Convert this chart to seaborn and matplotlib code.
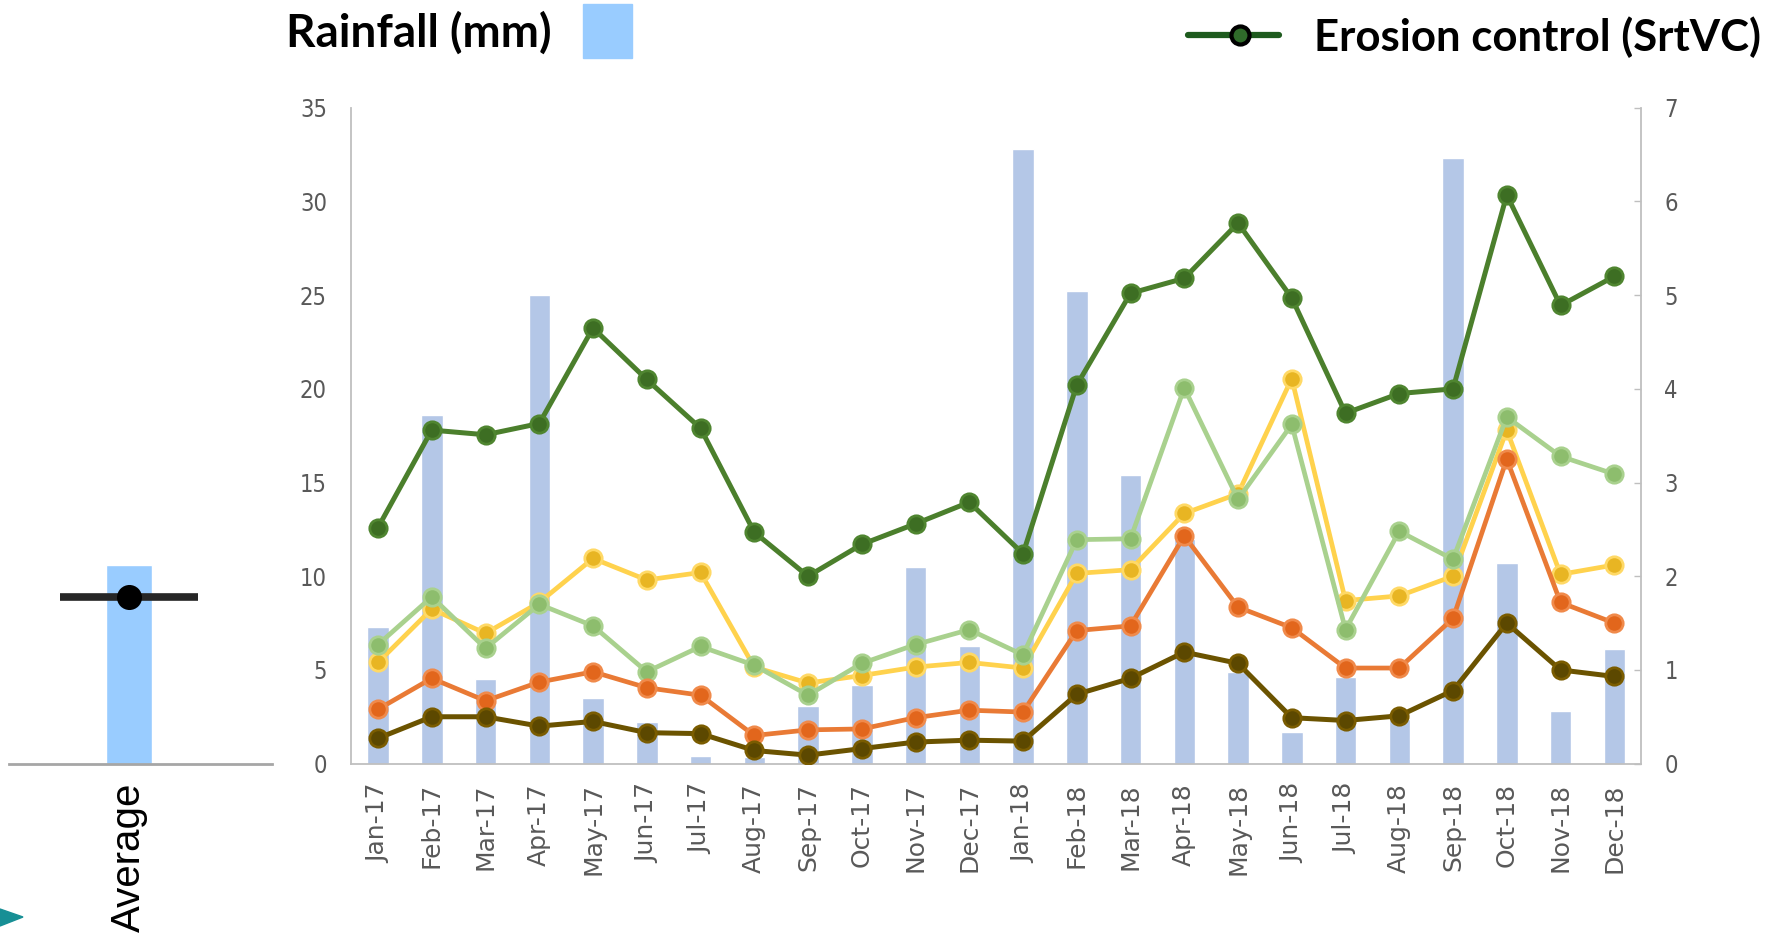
import numpy as np
import pandas as pd
import matplotlib
matplotlib.use("Agg")
import matplotlib.pyplot as plt
from matplotlib.lines import Line2D
from matplotlib.patches import Rectangle, Polygon
import seaborn as sns

# ---- data -------------------------------------------------------------
months = ["Jan-17", "Feb-17", "Mar-17", "Apr-17", "May-17", "Jun-17",
          "Jul-17", "Aug-17", "Sep-17", "Oct-17", "Nov-17", "Dec-17",
          "Jan-18", "Feb-18", "Mar-18", "Apr-18", "May-18", "Jun-18",
          "Jul-18", "Aug-18", "Sep-18", "Oct-18", "Nov-18", "Dec-18"]

rainfall = [7.3, 18.6, 4.5, 25.0, 3.5, 2.2, 0.4, 0.35, 3.1, 4.2, 10.5, 6.3,
            32.8, 25.2, 15.4, 12.0, 4.9, 1.7, 4.6, 2.4, 32.3, 10.7, 2.8, 6.1]

erosion_srtvc = [2.52, 3.56, 3.51, 3.63, 4.65, 4.10, 3.58, 2.47, 2.00, 2.34,
                 2.56, 2.79, 2.24, 4.04, 5.02, 5.18, 5.77, 4.97, 3.74, 3.95,
                 4.00, 6.07, 4.89, 5.20]
series_lightgreen = [1.27, 1.78, 1.23, 1.70, 1.47, 0.98, 1.25, 1.05, 0.73, 1.07,
                     1.27, 1.43, 1.16, 2.39, 2.40, 4.01, 2.82, 3.62, 1.43, 2.48,
                     2.18, 3.70, 3.28, 3.09]
series_yellow = [1.08, 1.65, 1.39, 1.72, 2.19, 1.96, 2.04, 1.03, 0.86, 0.94,
                 1.03, 1.08, 1.02, 2.03, 2.07, 2.67, 2.88, 4.11, 1.74, 1.79,
                 2.00, 3.56, 2.02, 2.12]
series_orange = [0.58, 0.91, 0.67, 0.87, 0.98, 0.81, 0.73, 0.30, 0.36, 0.37,
                 0.49, 0.57, 0.55, 1.42, 1.47, 2.43, 1.67, 1.45, 1.02, 1.02,
                 1.55, 3.25, 1.72, 1.50]
series_olive = [0.27, 0.50, 0.50, 0.40, 0.45, 0.33, 0.32, 0.14, 0.09, 0.16,
                0.23, 0.25, 0.24, 0.74, 0.91, 1.19, 1.07, 0.49, 0.46, 0.51,
                0.78, 1.50, 1.00, 0.93]

average_label = ["Average"]
average_rainfall = [10.6]
average_marker = [8.9]

# ---- style ------------------------------------------------------------
sns.set_theme(style="white")
plt.rcParams["font.family"] = ["DejaVu Sans"]

grey_axis = "#bfbfbf"
tick_grey = "#595959"

W, H = 1779, 940
fig = plt.figure(figsize=(W / 100, H / 100), dpi=100)

def fx(px):
    return px / W

def fy(py):
    return 1 - py / H

ax_bottom, ax_top = 763.6, 107.8
ax = fig.add_axes([fx(350.6), fy(ax_bottom), fx(1640.6 - 350.6),
                   (ax_bottom - ax_top) / H])

# rainfall bars on the left axis
rain_df = pd.DataFrame({"month": months, "rain": rainfall})
sns.barplot(data=rain_df, x="month", y="rain", ax=ax, color="#b4c7e7",
            saturation=1, width=0.4, zorder=1)
ax.set_xlim(-0.51, len(months) - 0.51)
ax.set_ylim(0, 35)
ax.set_yticks(np.arange(0, 36, 5))
ax.set_xlabel("")
ax.set_ylabel("")
ax.tick_params(axis="y", length=0, pad=17, labelsize=17, labelcolor=tick_grey)
ax.tick_params(axis="x", length=0, pad=14, labelsize=18, labelcolor=tick_grey)
for lab in ax.get_yticklabels():
    lab.set_fontstretch("condensed")
    lab.set_fontweight("light")
for lab in ax.get_xticklabels():
    lab.set_rotation(90)
for side in ["top", "right"]:
    ax.spines[side].set_visible(False)
for side in ["left", "bottom"]:
    ax.spines[side].set_color(grey_axis)
    ax.spines[side].set_linewidth(1.3)

# treatment lines on the right axis
ax2 = ax.twinx()
ax2.set_ylim(0, 7)
ax2.set_yticks(np.arange(0, 8, 1))
idx = np.arange(len(months))
line_specs = [
    (series_yellow, "#ffd24d", "#e8b523", "#ffd966", 3.4),
    (series_lightgreen, "#a9d18e", "#8dbd6d", "#a9d18e", 3.4),
    (series_orange, "#e97a35", "#e2661c", "#f08a4b", 3.4),
    (series_olive, "#6b5300", "#5c4800", "#7a5c00", 3.6),
    (erosion_srtvc, "#4b7f2c", "#3d6e23", "#4f8530", 3.6),
]
for vals, lc, face, edge, lw in line_specs:
    sns.lineplot(x=idx, y=vals, ax=ax2, color=lc, linewidth=lw, marker="o",
                 markersize=12.5, markerfacecolor=face, markeredgecolor=edge,
                 markeredgewidth=2, zorder=3)
ax2.set_xlim(-0.51, len(months) - 0.51)
ax2.set_ylabel("")
ax2.tick_params(axis="y", direction="in", length=5, width=1, color=grey_axis,
                pad=17, labelsize=17, labelcolor=tick_grey)
for lab in ax2.get_yticklabels():
    lab.set_fontstretch("condensed")
    lab.set_fontweight("light")
for side in ["top", "left", "bottom"]:
    ax2.spines[side].set_visible(False)
ax2.spines["right"].set_color(grey_axis)
ax2.spines["right"].set_linewidth(1.3)

# average panel on the left
axl = fig.add_axes([fx(9), fy(ax_bottom), fx(263), (ax_bottom - ax_top) / H])
sns.barplot(x=average_label, y=average_rainfall, ax=axl, color="#99ccff",
            saturation=1, width=0.175)
sns.pointplot(x=average_label, y=average_marker, ax=axl, color="#262626",
              markers="_", markersize=99, markeredgewidth=5.5, linestyles="none")
sns.pointplot(x=average_label, y=average_marker, ax=axl, color="black",
              markers="o", markersize=16, linestyles="none")
axl.set_xlim(-0.456, 0.544)
axl.set_ylim(0, 35)
axl.set_yticks([])
axl.set_xlabel("")
axl.set_ylabel("")
axl.tick_params(axis="x", length=0, pad=14, labelsize=29, labelcolor="black")
for lab in axl.get_xticklabels():
    lab.set_rotation(90)
    lab.set_family(["Liberation Sans", "DejaVu Sans"])
for side in ["top", "left", "right"]:
    axl.spines[side].set_visible(False)
axl.spines["bottom"].set_color("#a6a6a6")
axl.spines["bottom"].set_linewidth(2)
axl.patch.set_alpha(0)

# header legend
head_font = ["Lato", "DejaVu Sans"]
fig.text(fx(286), fy(33), "Rainfall (mm)", fontsize=33, fontweight="bold",
         family=head_font, va="center", ha="left", color="black")
fig.patches.append(Rectangle((fx(583), fy(58)), fx(49), 54 / H,
                             transform=fig.transFigure, color="#99ccff"))
fig.lines.append(Line2D([fx(1188), fx(1279)], [fy(35), fy(35)],
                        transform=fig.transFigure, color="#1e5b1e", linewidth=4.5))
fig.lines.append(Line2D([fx(1240)], [fy(35)], transform=fig.transFigure,
                        marker="o", markersize=13, markerfacecolor="#2f6b2a",
                        markeredgecolor="black", markeredgewidth=3, linestyle="none"))
fig.text(fx(1314), fy(37), "Erosion control (SrtVC)", fontsize=31.5,
         fontweight="bold", family=head_font, va="center", ha="left", color="black")

# small teal pointer at the lower-left edge
fig.patches.append(Polygon([(fx(0), fy(909)), (fx(23), fy(917)), (fx(0), fy(926))],
                           closed=True, transform=fig.transFigure, color="#178f95"))

fig.savefig("out.png", dpi=100, facecolor="white")
